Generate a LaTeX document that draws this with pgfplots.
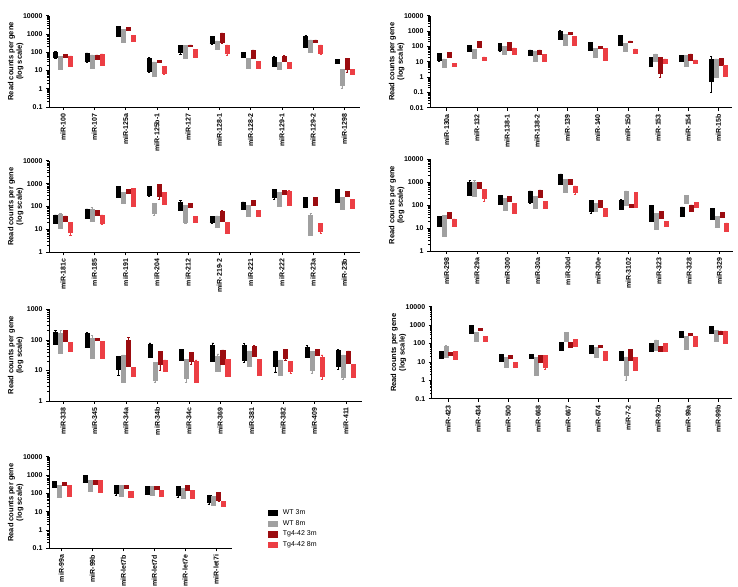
\documentclass[border=0pt]{standalone}
\usepackage{pgfplots}
\pgfplotsset{compat=1.18}
\usepgfplotslibrary{statistics}
\usepackage{fontspec}
\setmainfont{Liberation Sans}
\definecolor{cK}{RGB}{0,0,0}
\definecolor{cG}{RGB}{160,160,160}
\definecolor{cD}{RGB}{155,12,16}
\definecolor{cR}{RGB}{236,62,68}
\newcommand{\bx}[6]{\addplot[forget plot, draw=#2, fill=#2, line width=0.5pt, boxplot prepared={draw position=#1, lower whisker=#3, lower quartile=#4, median=#4, upper quartile=#5, upper whisker=#6}] coordinates {};}
\newcommand{\bK}[5]{\bx{#1-0.24}{cK}{#2}{#3}{#4}{#5}}
\newcommand{\bG}[5]{\bx{#1-0.08}{cG}{#2}{#3}{#4}{#5}}
\newcommand{\bD}[5]{\bx{#1+0.08}{cD}{#2}{#3}{#4}{#5}}
\newcommand{\bR}[5]{\bx{#1+0.24}{cR}{#2}{#3}{#4}{#5}}
\pgfplotsset{every axis/.append style={scale only axis, axis x line*=bottom, axis y line*=left,
  axis line style={-, line width=0.8pt}, enlargelimits=false,
  xtick={0,...,9}, tick align=outside,
  major tick length=3pt, minor tick length=1.6pt,
  every tick/.style={line width=0.6pt, black},
  minor ytick={0.02,0.03,0.04,0.05,0.06,0.07,0.08,0.09,0.2,0.3,0.4,0.5,0.6,0.7,0.8,0.9,2,3,4,5,6,7,8,9,20,30,40,50,60,70,80,90,200,300,400,500,600,700,800,900,2000,3000,4000,5000,6000,7000,8000,9000},
  tick label style={font=\fontsize{7}{8}\selectfont\bfseries},
  xticklabel style={rotate=90, anchor=east},
  ylabel={Read counts per gene\\(log scale)},
  ylabel style={align=center, font=\fontsize{7.5}{8.5}\selectfont\bfseries, at={(axis description cs:0,0.5)}, anchor=south, yshift=22pt},
  boxplot/draw direction=y, boxplot/box extend=0.13, boxplot/whisker extend=0.07, clip=false}}
\begin{document}
\begin{tikzpicture}[x=1pt,y=1pt]
\path[use as bounding box] (0,0) rectangle (738,586);
% Panel 1
\begin{axis}[ymode=log, at={(49pt,479pt)}, anchor=south west, width=311pt, height=91.3pt, xmin=-0.45, xmax=9.5,
  ymin=0.1, ymax=10000, ytick={0.1,1,10,100,1000,10000}, yticklabels={0.1,1,10,100,1000,10000},
  xticklabels={miR-100,miR-107,miR-125a,miR-125b-1,miR-127,miR-128-1,miR-128-2,miR-129-1,miR-129-2,miR-1298}]
\bK{0}{48}{51}{105}{112}\bG{0}{11}{11}{58}{60}\bD{0}{51}{51}{78}{78}\bR{0}{16}{17}{63}{63}
\bK{1}{30}{31}{89}{92}\bG{1}{13}{13}{71}{71}\bD{1}{42}{42}{71}{72}\bR{1}{20}{20}{81}{81}
\bK{2}{710}{710}{2500}{2600}\bG{2}{340}{340}{1860}{1860}\bD{2}{1500}{1500}{2300}{2300}\bR{2}{380}{380}{810}{810}
\bK{3}{8}{9}{47}{50}\bG{3}{5}{5}{28}{30}\bD{3}{28}{28}{35}{35}\bR{3}{6.5}{7}{17}{17}
\bK{4}{75}{100}{230}{230}\bG{4}{47}{47}{230}{230}\bD{4}{200}{200}{250}{250}\bR{4}{54}{54}{145}{145}
\bK{5}{280}{310}{710}{710}\bG{5}{145}{145}{420}{420}\bD{5}{320}{340}{1100}{1150}\bR{5}{70}{89}{250}{250}
\bK{6}{54}{54}{100}{100}\bG{6}{13}{13}{47}{47}\bD{6}{47}{47}{135}{135}\bR{6}{14}{14}{31}{31}
\bK{7}{17}{17}{54}{58}\bG{7}{11}{11}{28}{28}\bD{7}{31}{31}{63}{70}\bR{7}{13}{13}{28}{28}
\bK{8}{190}{190}{780}{850}\bG{8}{100}{100}{470}{470}\bD{8}{340}{340}{470}{470}\bR{8}{80}{89}{250}{250}
\bK{9}{25}{25}{42}{42}\bG{9}{1}{1.5}{11}{12}\bD{9}{8}{11}{47}{47}\bR{9}{6}{6}{12}{12}
\end{axis}
% Panel 2
\begin{axis}[ymode=log, at={(430pt,478.3pt)}, anchor=south west, width=302pt, height=92pt, xmin=-0.55, xmax=9.45,
  ymin=0.01, ymax=10000, ytick={0.01,0.1,1,10,100,1000,10000}, yticklabels={0.01,0.1,1,10,100,1000,10000},
  xticklabels={miR-130a,miR-132,miR-138-1,miR-138-2,miR-139,miR-140,miR-150,miR-153,miR-154,miR-15b}]
\bK{0}{10}{12}{35}{35}\bG{0}{4.3}{4.3}{15}{15}\bD{0}{21}{21}{39}{39}\bR{0}{4.7}{4.7}{7.8}{7.8}
\bK{1}{45}{45}{110}{110}\bG{1}{17}{17}{63}{63}\bD{1}{85}{85}{220}{220}\bR{1}{13}{13}{21}{21}
\bK{2}{45}{58}{160}{160}\bG{2}{30}{30}{105}{105}\bD{2}{58}{58}{175}{175}\bR{2}{30}{30}{81}{81}
\bK{3}{25}{25}{58}{58}\bG{3}{11}{11}{50}{50}\bD{3}{32}{32}{58}{58}\bR{3}{10}{10}{30}{30}
\bK{4}{290}{290}{1000}{1100}\bG{4}{110}{110}{600}{600}\bD{4}{600}{600}{810}{810}\bR{4}{110}{110}{430}{430}
\bK{5}{58}{58}{175}{175}\bG{5}{19}{19}{74}{74}\bD{5}{74}{74}{100}{100}\bR{5}{13}{13}{74}{74}
\bK{6}{120}{120}{500}{520}\bG{6}{45}{45}{160}{160}\bD{6}{180}{180}{230}{230}\bR{6}{35}{35}{68}{68}
\bK{7}{4.7}{4.7}{19}{19}\bG{7}{10}{10}{32}{32}\bD{7}{1}{1.9}{19}{19}\bR{7}{7.8}{7.8}{15}{15}
\bK{8}{10}{10}{27}{27}\bG{8}{4.7}{4.7}{27}{27}\bD{8}{13}{13}{32}{32}\bR{8}{8.5}{8.5}{13}{13}
\bK{9}{0.1}{0.5}{15}{22}\bG{9}{1}{1}{15}{15}\bD{9}{6}{6}{17}{17}\bR{9}{1.05}{1.05}{5.5}{5.5}
\end{axis}
% Panel 3
\begin{axis}[ymode=log, at={(49pt,333.7pt)}, anchor=south west, width=311pt, height=91.6pt, xmin=-0.45, xmax=9.5,
  ymin=1, ymax=10000, ytick={1,10,100,1000,10000}, yticklabels={1,10,100,1000,10000},
  xticklabels={miR-181c,miR-185,miR-191,miR-204,miR-212,miR-219-2,miR-221,miR-222,miR-23a,miR-23b}]
\bK{0}{19.5}{19.5}{43}{43}\bG{0}{11}{11}{46}{50}\bD{0}{23}{23}{39}{39}\bR{0}{5.5}{7.4}{20}{20}
\bK{1}{32}{32}{78}{78}\bG{1}{22}{22}{76}{90}\bD{1}{43}{43}{66}{66}\bR{1}{17}{19}{43}{43}
\bK{2}{250}{250}{740}{740}\bG{2}{140}{140}{420}{420}\bD{2}{370}{370}{560}{560}\bR{2}{100}{100}{620}{620}
\bK{3}{280}{320}{740}{740}\bG{3}{40}{50}{140}{140}\bD{3}{200}{270}{930}{930}\bR{3}{125}{125}{400}{400}
\bK{4}{70}{70}{160}{180}\bG{4}{18}{20}{110}{110}\bD{4}{89}{89}{140}{140}\bR{4}{20}{20}{36}{36}
\bK{5}{18}{20}{36}{36}\bG{5}{12}{12}{39}{39}\bD{5}{22}{22}{60}{70}\bR{5}{6.8}{6.8}{20}{20}
\bK{6}{78}{78}{160}{160}\bG{6}{36}{36}{110}{110}\bD{6}{117}{117}{190}{190}\bR{6}{39}{39}{66}{66}
\bK{7}{200}{250}{580}{580}\bG{7}{100}{100}{400}{400}\bD{7}{340}{340}{490}{490}\bR{7}{117}{117}{450}{500}
\bK{8}{89}{89}{245}{245}\bG{8}{5.7}{5.7}{43}{50}\bD{8}{110}{110}{250}{250}\bR{8}{7}{8}{19}{19}
\bK{9}{160}{160}{560}{560}\bG{9}{78}{78}{245}{245}\bD{9}{270}{270}{450}{450}\bR{9}{83}{83}{200}{200}
\end{axis}
% Panel 4
\begin{axis}[ymode=log, at={(430pt,335pt)}, anchor=south west, width=303pt, height=91.7pt, xmin=-0.55, xmax=9.45,
  ymin=1, ymax=10000, ytick={1,10,100,1000,10000}, yticklabels={1,10,100,1000,10000},
  xticklabels={miR-298,miR-29a,miR-300,miR-30a,miR-30d,miR-30e,miR-3102,miR-323,miR-328,miR-329}]
\bK{0}{12}{12}{32}{32}\bG{0}{4.3}{4.3}{37}{37}\bD{0}{27}{27}{47}{47}\bR{0}{11.5}{11.5}{25}{25}
\bK{1}{275}{275}{1000}{1200}\bG{1}{235}{235}{1000}{1200}\bD{1}{540}{540}{1000}{1000}\bR{1}{150}{200}{490}{490}
\bK{2}{110}{110}{260}{260}\bG{2}{62}{62}{200}{200}\bD{2}{150}{150}{235}{235}\bR{2}{44}{44}{120}{120}
\bK{3}{120}{140}{420}{420}\bG{3}{72}{72}{235}{235}\bD{3}{215}{215}{460}{460}\bR{3}{72}{72}{150}{150}
\bK{4}{830}{830}{2300}{2300}\bG{4}{355}{355}{1350}{1350}\bD{4}{830}{830}{1380}{1380}\bR{4}{300}{355}{700}{700}
\bK{5}{45}{52}{165}{165}\bG{5}{52}{52}{120}{120}\bD{5}{85}{85}{165}{165}\bR{5}{34}{34}{72}{72}
\bK{6}{66}{66}{165}{180}\bG{6}{102}{102}{420}{420}\bD{6}{78}{78}{110}{110}\bR{6}{85}{85}{355}{355}
\bK{7}{20}{20}{95}{95}\bG{7}{9}{9}{44}{44}\bD{7}{28}{28}{52}{52}\bR{7}{11.5}{11.5}{19}{19}
\bK{8}{34}{34}{85}{85}\bG{8}{120}{120}{275}{275}\bD{8}{56}{56}{102}{102}\bR{8}{78}{78}{130}{130}
\bK{9}{25}{25}{72}{72}\bG{9}{10.5}{10.5}{32}{32}\bD{9}{29}{29}{47}{47}\bR{9}{7}{7.4}{17}{17}
\end{axis}
% Panel 5
\begin{axis}[ymode=log, at={(49pt,185pt)}, anchor=south west, width=312.6pt, height=91.7pt, xmin=-0.45, xmax=9.5,
  ymin=1, ymax=1000, ytick={1,10,100,1000}, yticklabels={1,10,100,1000},
  xticklabels={miR-338,miR-345,miR-34a,miR-34b,miR-34c,miR-369,miR-381,miR-382,miR-409,miR-411}]
\bK{0}{71}{71}{174}{200}\bG{0}{37}{37}{163}{200}\bD{0}{91}{91}{200}{200}\bR{0}{41}{41}{81}{81}
\bK{1}{57}{57}{163}{175}\bG{1}{25}{25}{117}{140}\bD{1}{100}{100}{112}{112}\bR{1}{25}{25}{91}{91}
\bK{2}{7}{11}{29}{29}\bG{2}{4}{4}{32}{32}\bD{2}{14}{14}{100}{120}\bR{2}{6.6}{6.6}{12.6}{12.6}
\bK{3}{28}{28}{71}{80}\bG{3}{4}{4.7}{18}{18}\bD{3}{10}{16}{41}{41}\bR{3}{9.5}{9.5}{22}{22}
\bK{4}{22}{22}{49}{49}\bG{4}{4}{5.5}{23}{23}\bD{4}{16}{20}{40}{40}\bR{4}{4.1}{4.1}{20}{22}
\bK{5}{20}{20}{68}{80}\bG{5}{9.5}{9.5}{30}{35}\bD{5}{16}{16}{47}{47}\bR{5}{6.3}{6.3}{23}{23}
\bK{6}{18}{22}{68}{75}\bG{6}{14}{14}{44}{44}\bD{6}{29}{29}{60}{65}\bR{6}{7.1}{7.1}{23}{23}
\bK{7}{9}{14}{44}{44}\bG{7}{7.1}{7.1}{22}{22}\bD{7}{22}{25}{49}{49}\bR{7}{8}{9.1}{19.5}{19.5}
\bK{8}{28}{28}{57}{65}\bG{8}{8}{10}{41}{41}\bD{8}{32}{32}{50}{50}\bR{8}{5}{6.6}{28}{32}
\bK{9}{11}{14}{45}{50}\bG{9}{5}{5.8}{32}{32}\bD{9}{17}{17}{44}{44}\bR{9}{6}{6}{16}{16}
\end{axis}
% Panel 6
\begin{axis}[ymode=log, at={(431.7pt,187.3pt)}, anchor=south west, width=300pt, height=92pt, xmin=-0.55, xmax=9.45,
  ymin=0.1, ymax=10000, ytick={0.1,1,10,100,1000,10000}, yticklabels={0.1,1,10,100,1000,10000},
  xticklabels={miR-423,miR-434,miR-500,miR-668,miR-667,miR-674,miR-7-2,miR-92b,miR-99a,miR-99b}]
\bK{0}{15.5}{15.5}{36}{36}\bG{0}{19}{19}{68}{80}\bD{0}{23}{23}{33}{33}\bR{0}{14.5}{14.5}{36}{36}
\bK{1}{355}{355}{1000}{1000}\bG{1}{125}{125}{390}{390}\bD{1}{540}{540}{660}{660}\bR{1}{125}{125}{235}{235}
\bK{2}{11}{11}{26}{26}\bG{2}{5}{5}{17}{17}\bD{2}{15.5}{15.5}{23}{23}\bR{2}{5}{5}{9.1}{9.1}
\bK{3}{15.5}{15.5}{26}{26}\bG{3}{2}{2}{17}{17}\bD{3}{10}{10}{22}{22}\bR{3}{4}{5}{22}{22}
\bK{4}{41}{41}{115}{115}\bG{4}{125}{125}{390}{390}\bD{4}{59}{59}{115}{115}\bR{4}{68}{68}{174}{174}
\bK{5}{29}{29}{76}{76}\bG{5}{19}{19}{59}{59}\bD{5}{62}{62}{76}{76}\bR{5}{12.6}{12.6}{39}{39}
\bK{6}{11.7}{11.7}{39}{39}\bG{6}{1}{2}{19}{19}\bD{6}{12.6}{12.6}{48}{48}\bR{6}{3.6}{3.6}{17}{17}
\bK{7}{39}{39}{100}{100}\bG{7}{45}{45}{155}{155}\bD{7}{36}{36}{68}{68}\bR{7}{36}{36}{100}{100}
\bK{8}{215}{215}{440}{440}\bG{8}{48}{48}{235}{235}\bD{8}{290}{290}{355}{355}\bR{8}{68}{68}{235}{235}
\bK{9}{355}{355}{890}{890}\bG{9}{125}{125}{500}{500}\bD{9}{315}{315}{480}{480}\bR{9}{100}{100}{480}{480}
\end{axis}
% Panel 7
\begin{axis}[ymode=log, at={(49pt,37.7pt)}, anchor=south west, width=182.7pt, height=91.6pt, xmin=-0.4, xmax=5.5, xtick={0,...,5},
  ymin=0.1, ymax=10000, ytick={0.1,1,10,100,1000,10000}, yticklabels={0.1,1,10,100,1000,10000},
  xticklabels={miR-99a,miR-99b,miR-let7b,miR-let7d,miR-let7e,miR-let7i},
  legend style={at={(rel axis cs:1.2,0.445)}, anchor=north west, draw=none, fill=none,
    font=\fontsize{7}{8}\selectfont, row sep=0.2pt, column sep=3pt, inner sep=0pt, cells={anchor=west}}]
\bK{0}{215}{215}{470}{470}\bG{0}{60}{60}{280}{280}\bD{0}{280}{280}{380}{380}\bR{0}{71}{71}{280}{280}
\bK{1}{400}{400}{1000}{1000}\bG{1}{123}{123}{490}{490}\bD{1}{325}{325}{490}{490}\bR{1}{112}{112}{490}{490}
\bK{2}{80}{100}{280}{280}\bG{2}{66}{66}{280}{280}\bD{2}{186}{186}{280}{280}\bR{2}{58}{58}{123}{123}
\bK{3}{91}{91}{250}{250}\bG{3}{74}{74}{250}{250}\bD{3}{174}{174}{250}{250}\bR{3}{66}{66}{151}{151}
\bK{4}{60}{74}{230}{230}\bG{4}{54}{54}{186}{186}\bD{4}{151}{151}{280}{280}\bR{4}{54}{54}{151}{151}
\bK{5}{25}{31}{81}{81}\bG{5}{23}{23}{71}{71}\bD{5}{35}{40}{110}{110}\bR{5}{19}{19}{35}{35}
\addlegendimage{legend image code/.code={\fill[cK] (0pt,-2.6pt) rectangle (9pt,2.6pt);}}
\addlegendentry{WT 3m}
\addlegendimage{legend image code/.code={\fill[cG] (0pt,-2.6pt) rectangle (9pt,2.6pt);}}
\addlegendentry{WT 8m}
\addlegendimage{legend image code/.code={\fill[cD] (0pt,-2.6pt) rectangle (9pt,2.6pt);}}
\addlegendentry{Tg4-42 3m}
\addlegendimage{legend image code/.code={\fill[cR] (0pt,-2.6pt) rectangle (9pt,2.6pt);}}
\addlegendentry{Tg4-42 8m}
\end{axis}
\end{tikzpicture}
\end{document}
